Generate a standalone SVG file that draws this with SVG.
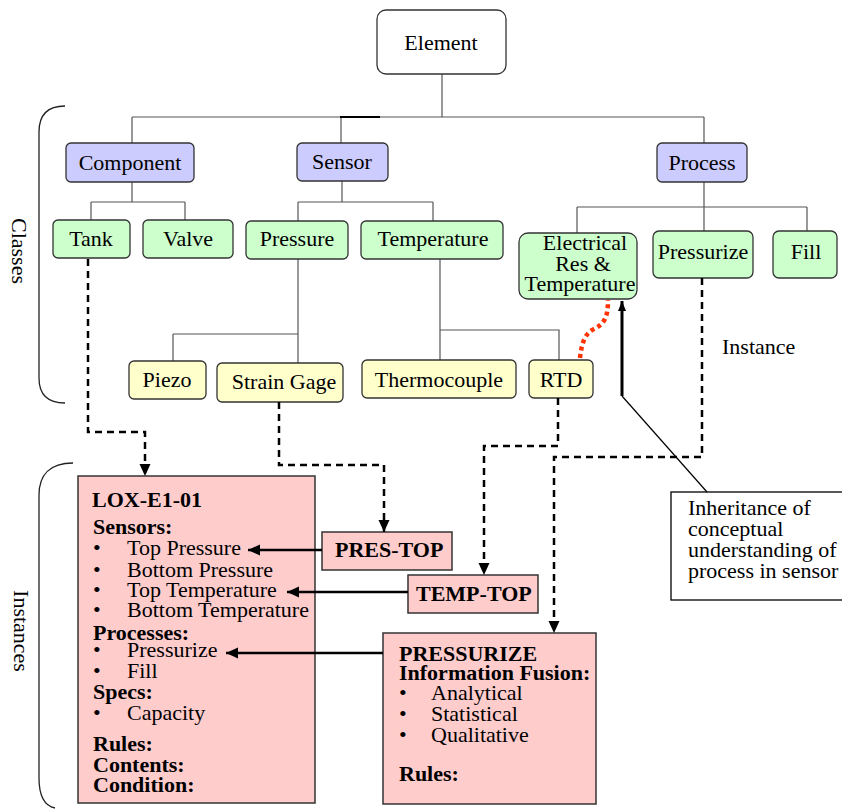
<svg xmlns="http://www.w3.org/2000/svg" width="842" height="809" viewBox="0 0 842 809" font-family="'Liberation Serif', 'Times New Roman', serif">
<style>
text{font-family:'Liberation Serif','Times New Roman',serif;font-size:22px;fill:#000}
.c{text-anchor:middle}
.b{font-weight:bold}
.cls rect{fill:#ccccff;stroke:#333;stroke-width:1.3}
.sub rect{fill:#ccffcc;stroke:#333;stroke-width:1.3}
.inst rect{fill:#ffffcc;stroke:#333;stroke-width:1.3}
.pink rect{fill:#ffcccc;stroke:#333;stroke-width:1.5}
.tree{fill:none;stroke:#555;stroke-width:1.2}
.dash{fill:none;stroke:#000;stroke-width:2.5;stroke-dasharray:7 5}
.solid{fill:none;stroke:#000;stroke-width:2.5}
.brace{fill:none;stroke:#222;stroke-width:1.3}
</style>
<defs>
<marker id="ah" markerUnits="userSpaceOnUse" markerWidth="12" markerHeight="12" refX="12" refY="6" orient="auto">
<path d="M0,0.5 L12,6 L0,11.5 z" fill="#000" stroke="none"/>
</marker>
<marker id="ah2" markerUnits="userSpaceOnUse" markerWidth="10" markerHeight="10" refX="10" refY="5" orient="auto">
<path d="M0,1 L10,5 L0,9 z" fill="#000" stroke="none"/>
</marker>
</defs>

<g id="braces">
<path class="brace" d="M65,106 C48,106 39,115 39,132 L39,378 C39,395 48,403 65,403"/>
<path class="brace" d="M73,463 C50,463 39,475 39,495 L39,778 C39,797 45,806 55,808"/>
<text class="c" transform="translate(12,251) rotate(90)">Classes</text>
<text class="c" transform="translate(14,631) rotate(90)">Instances</text>
</g>

<g id="tree-connectors">
<path class="tree" d="M442,74 V117 M132,117 H704 M132,117 V143 M341,117 V143 M704,117 V143"/>
<path d="M340,117 H380" stroke="#000" stroke-width="2"/>
<path class="tree" d="M132,182 V202 M91,202 H185 M91,202 V220 M185,202 V220"/>
<path class="tree" d="M342,181 V202 M298,202 H433 M298,202 V221 M433,202 V221"/>
<path class="tree" d="M704,182 V207 M577,207 H807 M577,207 V233 M704,207 V231 M807,207 V231"/>
<path class="tree" d="M298,259 V363 M173,334 H298 M173,334 V361"/>
<path class="tree" d="M440,259 V360 M440,330 H559 V360"/>
</g>

<g id="element"><rect x="377" y="10" width="129" height="64" rx="9" fill="#fff" stroke="#333" stroke-width="1.3"/><text class="c" x="441" y="50">Element</text></g>

<g id="component" class="cls"><rect x="66" y="143" width="128" height="39" rx="5"/><text class="c" x="130" y="170">Component</text></g>
<g id="sensor" class="cls"><rect x="297" y="143" width="91" height="38" rx="5"/><text class="c" x="342" y="169">Sensor</text></g>
<g id="process" class="cls"><rect x="657" y="143" width="90" height="39" rx="5"/><text class="c" x="702" y="170">Process</text></g>

<g id="tank" class="sub"><rect x="53" y="220" width="77" height="38" rx="5"/><text class="c" x="91" y="246">Tank</text></g>
<g id="valve" class="sub"><rect x="143" y="220" width="90" height="38" rx="5"/><text class="c" x="188" y="246">Valve</text></g>
<g id="pressure" class="sub"><rect x="246" y="221" width="102" height="38" rx="5"/><text class="c" x="297" y="246">Pressure</text></g>
<g id="temperature" class="sub"><rect x="361" y="221" width="142" height="38" rx="5"/><text class="c" x="433" y="246">Temperature</text></g>
<g id="elecres" class="sub"><rect x="519" y="233" width="118" height="66" rx="9"/>
<text class="c" x="585" y="250">Electrical</text>
<text class="c" x="583" y="271">Res &amp;</text>
<text class="c" x="580" y="291">Temperature</text></g>
<g id="pressurize" class="sub"><rect x="653" y="231" width="100" height="47" rx="6"/><text class="c" x="703" y="259">Pressurize</text></g>
<g id="fill" class="sub"><rect x="773" y="231" width="64" height="47" rx="6"/><text class="c" x="806" y="259">Fill</text></g>

<g id="piezo" class="inst"><rect x="129" y="361" width="77" height="38" rx="5"/><text class="c" x="167" y="387">Piezo</text></g>
<g id="straingage" class="inst"><rect x="217" y="363" width="126" height="39" rx="5"/><text class="c" x="284" y="389">Strain Gage</text></g>
<g id="thermocouple" class="inst"><rect x="362" y="360" width="154" height="38" rx="5"/><text class="c" x="439" y="387">Thermocouple</text></g>
<g id="rtd" class="inst"><rect x="529" y="360" width="64" height="38" rx="5"/><text class="c" x="561" y="387">RTD</text></g>

<g id="instance-label"><text x="722" y="354">Instance</text></g>

<g id="inheritance"><rect x="671" y="492" width="180" height="108" fill="#fff" stroke="#000" stroke-width="1.3"/>
<text x="688" y="515">Inheritance of</text>
<text x="688" y="536">conceptual</text>
<text x="688" y="557">understanding of</text>
<text x="688" y="578">process in sensor</text></g>

<g id="lox" class="pink"><rect x="78" y="476" width="237" height="327"/>
<text class="b" x="92" y="507">LOX-E1-01</text>
<text class="b" x="93" y="534">Sensors:</text>
<text x="93" y="555">•</text><text x="127" y="555">Top Pressure</text>
<text x="93" y="577">•</text><text x="127" y="577">Bottom Pressure</text>
<text x="93" y="597">•</text><text x="127" y="597">Top Temperature</text>
<text x="93" y="617">•</text><text x="127" y="617">Bottom Temperature</text>
<text class="b" x="93" y="640">Processes:</text>
<text x="93" y="657">•</text><text x="127" y="657">Pressurize</text>
<text x="93" y="678">•</text><text x="127" y="678">Fill</text>
<text class="b" x="93" y="699">Specs:</text>
<text x="93" y="720">•</text><text x="127" y="720">Capacity</text>
<text class="b" x="93" y="751">Rules:</text>
<text class="b" x="93" y="772">Contents:</text>
<text class="b" x="93" y="792">Condition:</text></g>

<g id="prestop" class="pink"><rect x="322" y="532" width="130" height="38"/><text class="b" x="335" y="557">PRES-TOP</text></g>
<g id="temptop" class="pink"><rect x="408" y="575" width="130" height="38"/><text class="b" x="416" y="601">TEMP-TOP</text></g>

<g id="pressurize-inst" class="pink"><rect x="383" y="633" width="213" height="171"/>
<text class="b" x="399" y="661">PRESSURIZE</text>
<text class="b" x="399" y="680">Information Fusion:</text>
<text x="399" y="700">•</text><text x="431" y="700">Analytical</text>
<text x="399" y="721">•</text><text x="431" y="721">Statistical</text>
<text x="399" y="742">•</text><text x="431" y="742">Qualitative</text>
<text class="b" x="399" y="781">Rules:</text></g>

<g id="connectors">
<path d="M580,358 C582,340 586,333 594,329 C604,324 608,318 608,300" fill="none" stroke="#ff3300" stroke-width="4.5" stroke-dasharray="4 3.5"/>
<path d="M622,396 V301" fill="none" stroke="#000" stroke-width="3" marker-end="url(#ah2)"/>
<path d="M622,396 L707,492" fill="none" stroke="#000" stroke-width="1.2"/>
<path class="dash" d="M88,259 V432 H145 V476" marker-end="url(#ah)"/>
<path class="dash" d="M279,402 V465 H384 V532" marker-end="url(#ah)"/>
<path class="dash" d="M558,398 V446 H484 V575" marker-end="url(#ah)"/>
<path class="dash" d="M702,278 V457 H554 V633" marker-end="url(#ah)"/>
<path class="solid" d="M322,550 H248" marker-end="url(#ah)"/>
<path class="solid" d="M408,592 H287" marker-end="url(#ah)"/>
<path class="solid" d="M383,653 H226" marker-end="url(#ah)"/>
</g>
</svg>
